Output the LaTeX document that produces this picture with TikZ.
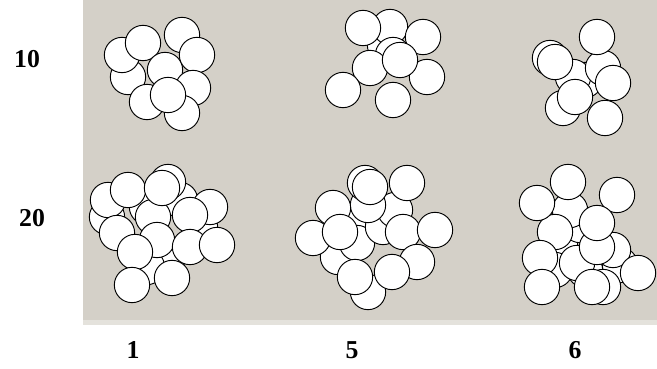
\documentclass[tikz,border=0pt]{standalone}
\usepackage{fontspec}
\setmainfont{Liberation Serif}
\usepackage{tikz}
\definecolor{panelgray}{HTML}{D4D0C8}
\definecolor{paneledge}{HTML}{E4E2DC}
\tikzset{ball/.style={draw=black,fill=white,line width=0.8pt},
  lbl/.style={font=\fontsize{22}{24}\selectfont\bfseries,inner sep=0pt}}

\begin{document}
\begin{tikzpicture}[x=0.03cm,y=-0.03cm]
\useasboundingbox (0,0) rectangle (657,368);
\fill[panelgray](83,0) rectangle (657,320);
\fill[paneledge](83,320) rectangle (657,325);
% 10 particles
\foreach \x/\y in {128/77,122/55,143/43,182/35,165/70,197/55,193/88,147/102,182/113,168/95}
  \draw[ball](\x,\y) circle[radius=0.53cm];
\foreach \x/\y in {385/45,390/27,363/28,423/37,393/55,370/68,427/77,400/60,343/90,393/100}
  \draw[ball](\x,\y) circle[radius=0.53cm];
\foreach \x/\y in {585/80,573/77,603/68,597/37,550/58,555/62,563/108,613/83,575/97,605/118}
  \draw[ball](\x,\y) circle[radius=0.53cm];
% 20 particles
\foreach \x/\y in {167/260,147/207,180/200,107/217,200/227,147/267,153/217,108/200,117/233,168/182,
  128/190,162/188,210/207,190/215,157/240,190/247,217/245,135/252,132/285,172/278}
  \draw[ball](\x,\y) circle[radius=0.53cm];
\foreach \x/\y in {355/222,388/215,368/292,338/257,357/243,383/227,395/210,368/205,333/208,365/183,
  370/187,407/183,313/238,340/232,403/232,435/230,417/262,392/272,355/277}
  \draw[ball](\x,\y) circle[radius=0.53cm];
\foreach \x/\y in {560/245,585/270,555/270,580/225,620/265,570/210,555/232,577/263,613/250,603/287,
  597/247,537/203,568/182,617/195,597/223,540/258,542/287,638/273,592/287}
  \draw[ball](\x,\y) circle[radius=0.53cm];
% labels
\node[lbl](n10) at (27,59){10};
\node[lbl](n20) at (32,218){20};
\node[lbl](t1) at (133,350){1};
\node[lbl](t5) at (352,350){5};
\node[lbl](t6) at (575,350){6};
\end{tikzpicture}
\end{document}
